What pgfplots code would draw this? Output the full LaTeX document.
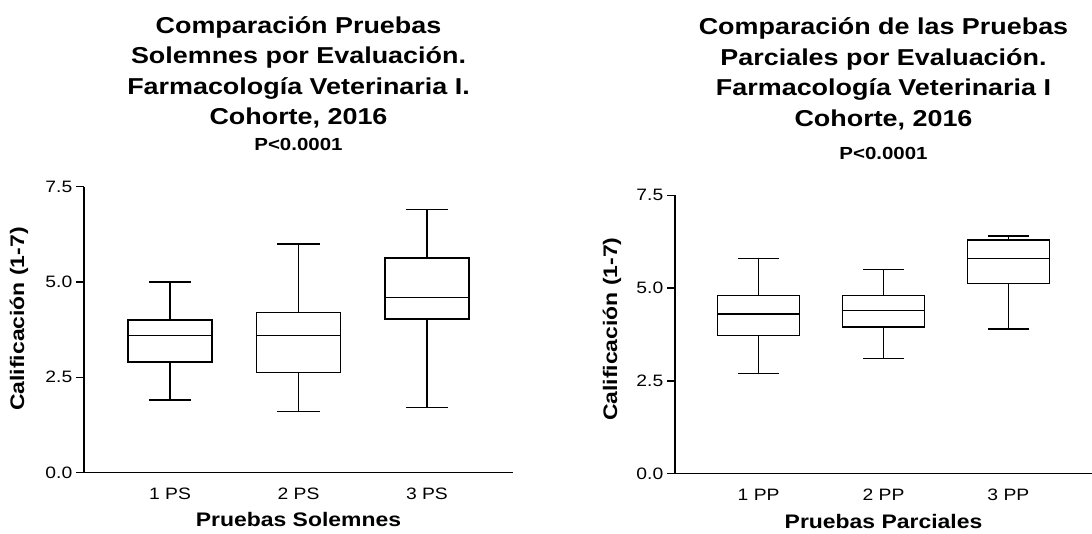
\documentclass[border=0pt]{standalone}
\usepackage{fontspec}
\setmainfont{Liberation Sans}[FakeStretch=1.17]
\usepackage{pgfplots}
\pgfplotsset{compat=1.18}
\usepgfplotslibrary{statistics}

\pgfplotsset{
  gpbox/.style={
    scale only axis,
    axis lines=left,
    axis line style={-, line width=1.3pt, black},
    xmin=0.33, xmax=3.67, ymin=0, ymax=7.5,
    xtick={1,2,3},
    xtick style={draw=none},
    ytick={0,2.5,5,7.5},
    yticklabels={0.0,2.5,5.0,7.5},
    tick align=outside,
    major tick length=8pt,
    ytick style={line width=1.3pt, black},
    /pgf/number format/assume math mode=true,
    tick label style={font=\fontsize{16.5}{20}\selectfont},
    yticklabel style={anchor=east, inner sep=0pt, xshift=-3.5pt},
    xticklabel style={anchor=base, inner sep=0pt, yshift=-18.5pt},
    label style={font=\bfseries\fontsize{19.6}{24}\selectfont},
    xlabel style={at={(axis description cs:0.5,0)}, anchor=base, yshift=-53.5pt},
    title style={at={(axis description cs:0.5,1)}, anchor=south, inner sep=0pt, yshift=29.7pt, align=center, font=\bfseries\fontsize{23}{30.5}\selectfont},
    boxplot/draw direction=y,
    boxplot/box extend=0.655,
    boxplot/whisker extend=0.33,
  },
  gpplot/.style={black, line width=1.3pt, solid, mark=none},
}

\begin{document}
\begin{tikzpicture}
\useasboundingbox (0,0) rectangle (1092pt,533pt);

% Left panel: Pruebas Solemnes
\begin{axis}[gpbox,
  at={(84pt,60.5pt)}, anchor=south west,
  width=429pt, height=285.8pt,
  xticklabels={1 PS, 2 PS, 3 PS},
  xlabel={Pruebas Solemnes},
  ylabel={Calificación (1-7)},
  ylabel style={at={(axis description cs:-0.1515,0.537)}, anchor=center},
  title={Comparación Pruebas\\Solemnes por Evaluación.\\Farmacología Veterinaria I.\\Cohorte, 2016\\[-4.5pt]{\fontsize{17.5}{18}\selectfont P<0.0001}},
]
\addplot[gpplot, boxplot prepared={draw position=1, lower whisker=1.9, lower quartile=2.9, median=3.6, upper quartile=4.0, upper whisker=5.0}] coordinates {};
\addplot[gpplot, boxplot prepared={draw position=2, lower whisker=1.6, lower quartile=2.63, median=3.6, upper quartile=4.2, upper whisker=6.0}] coordinates {};
\addplot[gpplot, boxplot prepared={draw position=3, lower whisker=1.7, lower quartile=4.03, median=4.6, upper quartile=5.63, upper whisker=6.9}] coordinates {};
\end{axis}

% Right panel: Pruebas Parciales
\begin{axis}[gpbox,
  at={(675pt,59.3pt)}, anchor=south west,
  width=417pt, height=278.5pt,
  xticklabels={1 PP, 2 PP, 3 PP},
  xlabel={Pruebas Parciales},
  xlabel style={yshift=-0.8pt},
  ylabel={Calificación (1-7)},
  ylabel style={at={(axis description cs:-0.151,0.519)}, anchor=center},
  title={Comparación de las Pruebas\\Parciales por Evaluación.\\Farmacología Veterinaria I\\Cohorte, 2016\\[2.2pt]{\fontsize{17.5}{18}\selectfont P<0.0001}},
]
\addplot[gpplot, boxplot prepared={draw position=1, lower whisker=2.7, lower quartile=3.73, median=4.3, upper quartile=4.8, upper whisker=5.8}] coordinates {};
\addplot[gpplot, boxplot prepared={draw position=2, lower whisker=3.1, lower quartile=3.95, median=4.4, upper quartile=4.8, upper whisker=5.5}] coordinates {};
\addplot[gpplot, boxplot prepared={draw position=3, lower whisker=3.9, lower quartile=5.13, median=5.8, upper quartile=6.29, upper whisker=6.4}] coordinates {};
\end{axis}
\end{tikzpicture}
\end{document}
